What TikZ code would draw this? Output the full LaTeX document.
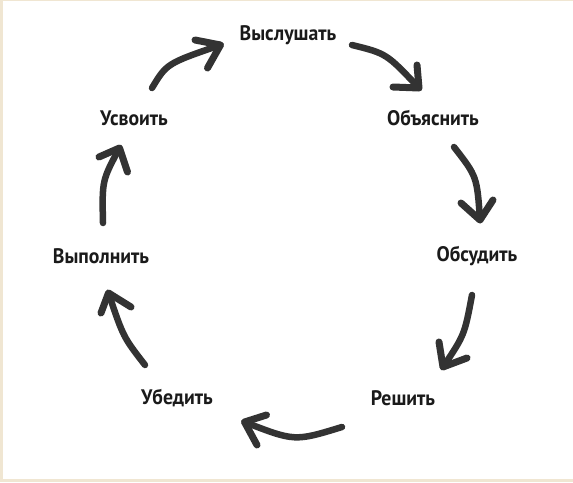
\documentclass[tikz,border=0pt]{standalone}
\usepackage{fontspec}
\newfontfamily\lab{PT Sans}[FakeStretch=0.94]
\definecolor{beige}{HTML}{F0E6D2}
\definecolor{arrowc}{HTML}{333333}
\definecolor{textc}{HTML}{1A1A1A}
\tikzset{
  lbl/.style={font=\lab\bfseries\fontsize{21}{24}\selectfont, text=textc, inner sep=0pt, anchor=center},
  shaft/.style={draw=arrowc, line width=6.5pt, line cap=round},
  barb/.style={draw=arrowc, line width=7pt, line cap=round, line join=round}
}
\begin{document}
\begin{tikzpicture}[x=1pt,y=-1pt]
\fill[beige] (0,0) rectangle (573,482);
\fill[white] (3,1) rectangle (573,479);
\useasboundingbox (0,0) rectangle (573,482);
\node[lbl] (vysl) at (288,35) {Выслушать};
\node[lbl] (obya) at (433,118) {Объяснить};
\node[lbl] (obsu) at (477,256) {Обсудить};
\node[lbl] (resh) at (403,398) {Решить};
\node[lbl] (ubed) at (177,398) {Убедить};
\node[lbl] (vypo) at (101,256) {Выполнить};
\node[lbl] (usvo) at (134,118) {Усвоить};
% arrow 1: Усвоить -> Выслушать
\coordinate (t1) at (152,88);  \coordinate (h1) at (220.5,45);
\coordinate (a1) at (195,40);  \coordinate (b1) at (207.5,68);
% arrow 2
\coordinate (t2) at (352,45);  \coordinate (h2) at (419,88);
\coordinate (a2) at (393,87);  \coordinate (b2) at (417,65);
% arrow 3
\coordinate (t3) at (454,147); \coordinate (h3) at (480,220);
\coordinate (a3) at (461,203); \coordinate (b3) at (493,200);
% arrow 4
\coordinate (t4) at (472,295); \coordinate (h4) at (443,367);
\coordinate (a4) at (439,342); \coordinate (b4) at (467,358);
% arrow 5
\coordinate (t5) at (342,427); \coordinate (h5) at (244.5,422);
\coordinate (a5) at (257,445); \coordinate (b5) at (266.5,415);
% arrow 6
\coordinate (t6) at (145,365); \coordinate (h6) at (108.5,293);
\coordinate (a6) at (131,307); \coordinate (b6) at (101,313);
% arrow 7
\coordinate (t7) at (103,223); \coordinate (h7) at (119.5,148);
\coordinate (a7) at (99,157);  \coordinate (b7) at (127.5,172);
\draw[shaft] (t1) .. controls (166.75,63.5) .. (h1);
\draw[shaft] (t2) .. controls (386.5,53.5) .. (h2);
\draw[shaft] (t3) .. controls (477,176.5) .. (h3);
\draw[shaft] (t4) .. controls (464.5,335) .. (h4);
\draw[shaft] (t5) .. controls (294.75,441.5) .. (h5);
\draw[shaft] (t6) .. controls (123.25,337) .. (h6);
\draw[shaft] (t7) .. controls (102,180.5) .. (h7);
\foreach \i in {1,...,7}{\draw[barb] (a\i) -- (h\i) -- (b\i);}
\end{tikzpicture}
\end{document}
